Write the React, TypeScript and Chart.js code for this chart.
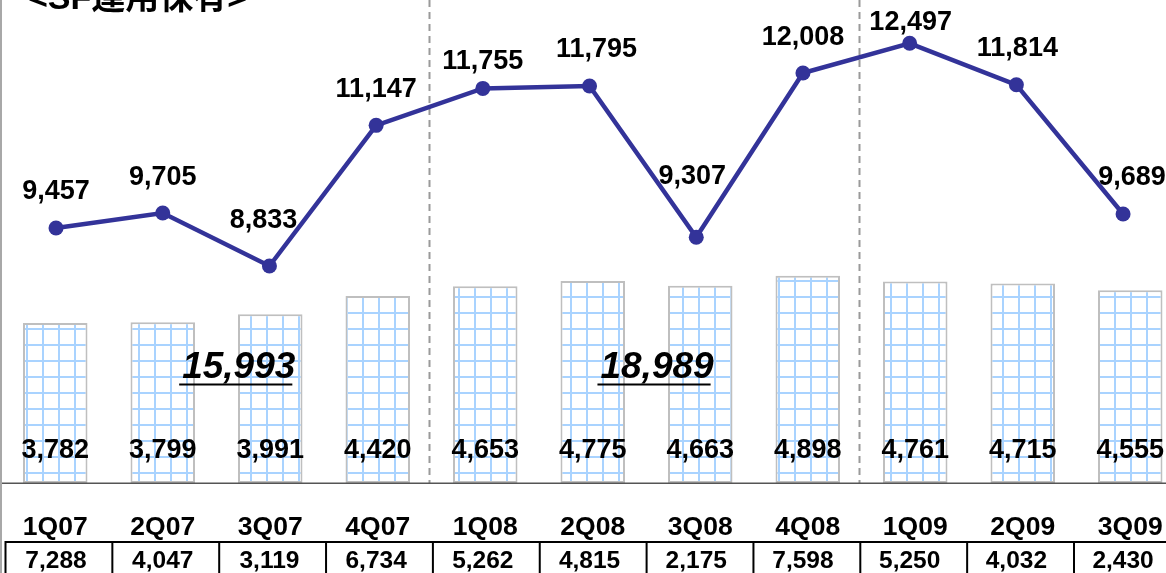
import React, { useEffect, useRef } from "react";
import { Chart, registerables } from "chart.js";

Chart.register(...registerables);

// ---------- data ----------
const TITLE = "<SF運用保有>";
const QUARTERS = ["1Q07", "2Q07", "3Q07", "4Q07", "1Q08", "2Q08", "3Q08", "4Q08", "1Q09", "2Q09", "3Q09"];
const SF_HOLDING_BARS = [3782, 3799, 3991, 4420, 4653, 4775, 4663, 4898, 4761, 4715, 4555];
const SF_LINE_VALUES = [9457, 9705, 8833, 11147, 11755, 11795, 9307, 12008, 12497, 11814, 9689];
const TABLE_VALUES = [7288, 4047, 3119, 6734, 5262, 4815, 2175, 7598, 5250, 4032, 2430];
const YEAR_TOTALS = [15993, 18989];
const YEAR_SEPARATORS_AFTER = [3, 7];

// ---------- styles ----------
const W = 1186;
const H = 573;
const LINE_COLOR = "#333399";
const FONT = "'Liberation Sans', Arial, 'Noto Sans CJK JP', sans-serif";
const LABEL_LIFT = [39, 37, 47, 38, 29, 38, 63, 38, 23, 38, 38];
const LABEL_DX = [0, 0, -6, 0, 0, 7, -4, 0, 1, 1, 9];
const TOTAL_ANCHORS = [1.707, 5.598];
const LAYOUT = {
  autoPadding: false,
  padding: { left: 1.5, right: 2, top: 0, bottom: 90 },
};

const fmt = (v: number) => v.toLocaleString("en-US");

function makeGridPattern(ctx: CanvasRenderingContext2D) {
  const c = document.createElement("canvas");
  c.width = 16;
  c.height = 16;
  const g = c.getContext("2d")!;
  g.fillStyle = "#ffffff";
  g.fillRect(0, 0, 16, 16);
  g.fillStyle = "#A9D3FF";
  g.fillRect(0, 0, 2, 16);
  g.fillRect(0, 0, 16, 2);
  const p = ctx.createPattern(c, "repeat")!;
  try {
    p.setTransform(new DOMMatrix().translateSelf(10, 8));
  } catch (e) {}
  return p;
}

const categoryCenter = (area: any, i: number) =>
  area.left + ((area.right - area.left) / QUARTERS.length) * (i + 0.5);

const barBackPlugin = {
  id: "barBack",
  beforeDatasetsDraw(chart: any) {
    const ctx: CanvasRenderingContext2D = chart.ctx;
    const area = chart.chartArea;
    ctx.save();
    ctx.strokeStyle = "#9a9a9a";
    ctx.lineWidth = 2;
    ctx.setLineDash([7, 5]);
    YEAR_SEPARATORS_AFTER.forEach((i) => {
      const x = (categoryCenter(area, i) + categoryCenter(area, i + 1)) / 2 - 2;
      ctx.beginPath();
      ctx.moveTo(x, 0);
      ctx.lineTo(x, area.bottom);
      ctx.stroke();
    });
    ctx.restore();
  },
};

const textPlugin = {
  id: "texts",
  afterDatasetsDraw(chart: any) {
    const ctx: CanvasRenderingContext2D = chart.ctx;
    const xl = chart.scales.x;
    const yl = chart.scales.y;
    const area = chart.chartArea;
    const width = chart.width;
    ctx.save();

    // left gray border
    ctx.fillStyle = "#a8a8a8";
    ctx.fillRect(0, 0, 2, chart.height);

    // axis line
    ctx.fillStyle = "#555555";
    ctx.fillRect(2, area.bottom - 0.5, width, 1.5);

    ctx.fillStyle = "#000000";
    ctx.textAlign = "center";
    ctx.textBaseline = "alphabetic";

    // bar value labels
    ctx.font = `bold 27px ${FONT}`;
    SF_HOLDING_BARS.forEach((v, i) => {
      ctx.fillText(fmt(v), categoryCenter(area, i), area.bottom - 25);
    });

    // line value labels
    SF_LINE_VALUES.forEach((v, i) => {
      const px = xl.getPixelForValue(i);
      const py = yl.getPixelForValue(v);
      ctx.fillText(fmt(v), px + LABEL_DX[i], py - LABEL_LIFT[i] + 9.5);
    });

    // year totals
    ctx.font = `italic bold 37px ${FONT}`;
    YEAR_TOTALS.forEach((v, i) => {
      const cx = categoryCenter(area, TOTAL_ANCHORS[i]);
      const t = fmt(v);
      ctx.fillText(t, cx, 378);
      const w = ctx.measureText(t).width;
      ctx.fillRect(cx - w / 2 - 3, 383.5, w, 2);
    });

    // category labels
    ctx.font = `bold 26.5px ${FONT}`;
    QUARTERS.forEach((q, i) => {
      ctx.fillText(q, categoryCenter(area, i), 535);
    });

    // table
    ctx.fillRect(5, 541, width, 2);
    for (let k = 0; k < QUARTERS.length; k++) {
      const bx = 5.5 + 106.85 * k;
      ctx.fillRect(bx - 1, 541, 2, 40);
    }
    ctx.font = `bold 24.5px ${FONT}`;
    TABLE_VALUES.forEach((v, i) => {
      ctx.fillText(fmt(v), xl.getPixelForValue(i), 568);
    });

    // title (mostly cropped above the frame)
    ctx.textAlign = "left";
    ctx.font = `bold 34px ${FONT}`;
    ctx.fillText(TITLE, 28, 9);

    ctx.restore();
  },
};

export default function App() {
  const barRef = useRef<HTMLCanvasElement>(null);
  const lineRef = useRef<HTMLCanvasElement>(null);

  useEffect(() => {
    const barCanvas = barRef.current!;
    const pattern = makeGridPattern(barCanvas.getContext("2d")!);

    const barChart = new Chart(barCanvas, {
      type: "bar",
      data: {
        labels: QUARTERS,
        datasets: [
          {
            label: "SF運用保有",
            data: SF_HOLDING_BARS,
            backgroundColor: pattern as any,
            borderColor: "#bfbfbf",
            borderWidth: 2,
            borderSkipped: false,
            barPercentage: 0.6,
            categoryPercentage: 1,
          } as any,
        ],
      },
      options: {
        responsive: false,
        animation: false,
        devicePixelRatio: 1,
        layout: LAYOUT as any,
        plugins: { legend: { display: false }, tooltip: { enabled: false } },
        scales: {
          x: { type: "category", display: false, offset: true },
          y: { type: "linear", display: false, min: 0, max: 11416 },
        },
      },
      plugins: [barBackPlugin],
    });

    const lineChart = new Chart(lineRef.current!, {
      type: "line",
      data: {
        datasets: [
          {
            label: "SF",
            data: SF_LINE_VALUES.map((v, i) => ({ x: i, y: v })) as any,
            borderColor: LINE_COLOR,
            backgroundColor: LINE_COLOR,
            borderWidth: 4.5,
            pointRadius: 7.5,
            pointBackgroundColor: LINE_COLOR,
            pointBorderWidth: 0,
            tension: 0,
            clip: false as any,
          } as any,
        ],
      },
      options: {
        responsive: false,
        animation: false,
        devicePixelRatio: 1,
        layout: LAYOUT as any,
        plugins: { legend: { display: false }, tooltip: { enabled: false } },
        scales: {
          x: { type: "linear", display: false, offset: false, min: -0.511, max: 10.571 },
          y: { type: "linear", display: false, min: 5263, max: 13209 },
        },
      },
      plugins: [textPlugin],
    });

    return () => {
      lineChart.destroy();
      barChart.destroy();
    };
  }, []);

  const canvasStyle: React.CSSProperties = {
    position: "absolute",
    left: 0,
    top: 0,
    width: W,
    height: H,
  };

  return (
    <div
      style={{
        position: "fixed",
        left: 0,
        top: 0,
        width: 1166,
        height: 573,
        overflow: "hidden",
        background: "#ffffff",
      }}
    >
      <canvas ref={barRef} width={W} height={H} style={canvasStyle} />
      <canvas ref={lineRef} width={W} height={H} style={canvasStyle} />
    </div>
  );
}
